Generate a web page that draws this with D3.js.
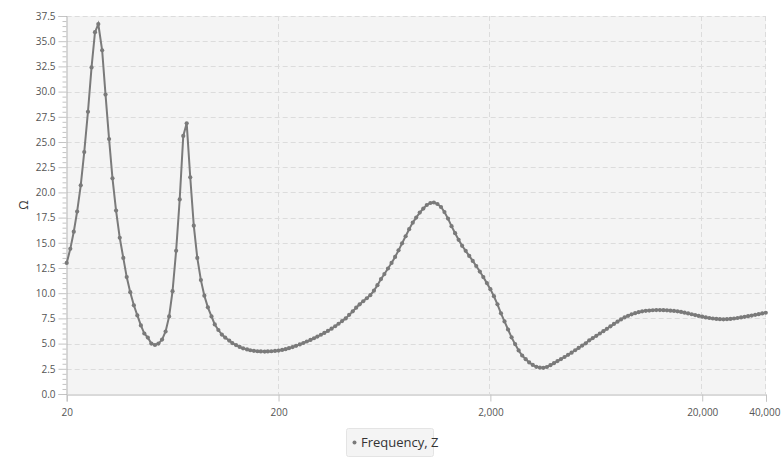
<!DOCTYPE html>
<html>
<head>
<meta charset="utf-8">
<script src="https://cdn.jsdelivr.net/npm/d3@7"></script>
<style>
  body { margin: 0; background: white; }
  text { font-family: "Open Sans", "Noto Sans", sans-serif; }
</style>
</head>
<body>
<div id="container"></div>
<script>
let w = 781;
let h = 462;
let margin = {top: 16, right: 15, bottom: 68, left: 66.7};

// DATA
let frequency = [
  20, 20.8, 21.6, 22.4, 23.3, 24.2, 25.2, 26.2, 27.2, 28.2, 29.4, 30.5, 31.7, 32.9, 34.2, 35.6, 37.0, 38.4, 39.9, 41.5,
  43.1, 44.8, 46.5, 48.3, 50.2, 52.2, 54.2, 56.4, 58.6, 60.9, 63.2, 65.7, 68.3, 71.0, 73.7, 76.6, 79.6, 82.7, 86.0, 89.3,
  92.8, 96.5, 100, 104, 108, 112, 117, 121, 126, 131, 136, 142, 147, 153, 159, 165, 172, 178, 185, 192.5,
  200, 208, 216, 224, 233, 242, 252, 262, 272, 283, 294, 305, 317, 329, 342, 356, 370, 384, 399, 415,
  431, 448, 465, 483, 502, 522, 542, 564, 586, 609, 632, 657, 683, 710, 737, 766, 796, 827, 860, 893,
  928, 965, 1002, 1042, 1082, 1125, 1169, 1214, 1262, 1311, 1363, 1416, 1471, 1529, 1589, 1651, 1715, 1783, 1852, 1925,
  2000, 2078, 2160, 2244, 2332, 2423, 2518, 2616, 2719, 2825, 2936, 3050, 3170, 3294, 3423, 3557, 3696, 3840, 3991, 4147,
  4309, 4477, 4653, 4835, 5024, 5220, 5425, 5637, 5857, 6086, 6325, 6572, 6829, 7096, 7374, 7662, 7962, 8274, 8597, 8934,
  9283, 9646, 10024, 10416, 10823, 11247, 11687, 12144, 12619, 13113, 13626, 14159, 14713, 15289, 15887, 16508, 17154, 17825, 18522, 19247,
  20000, 20782, 21596, 22440, 23318, 24230, 25179, 26163, 27188, 28250, 29356, 30504, 31698, 32938, 34226, 35566, 36957, 38402, 39906
];

let impedance = [
  13.0, 14.4, 16.1, 18.1, 20.7, 24.0, 28.0, 32.4, 35.9, 36.7, 34.1, 29.7, 25.3, 21.4, 18.2, 15.5, 13.5, 11.6, 10.1, 8.8,
  7.8, 6.8, 6.0, 5.6, 5.0, 4.86, 5.0, 5.4, 6.2, 7.7, 10.2, 14.2, 19.3, 25.6, 26.85, 21.5, 16.7, 13.5, 11.3, 9.75,
  8.6, 7.7, 6.9, 6.35, 5.9, 5.6, 5.3, 5.05, 4.85, 4.67, 4.53, 4.42, 4.34, 4.28, 4.24, 4.22, 4.21, 4.22, 4.24, 4.27,
  4.31, 4.37, 4.45, 4.55, 4.66, 4.78, 4.92, 5.06, 5.21, 5.36, 5.53, 5.70, 5.88, 6.06, 6.26, 6.48, 6.72, 6.97, 7.23, 7.50,
  7.85, 8.2, 8.56, 8.9, 9.2, 9.5, 9.8, 10.25, 10.8, 11.4, 11.9, 12.45, 13.0, 13.6, 14.25, 14.95, 15.65, 16.35, 17.0, 17.5,
  18.0, 18.4, 18.75, 18.95, 19.0, 18.85, 18.55, 18.05, 17.4, 16.65, 15.95, 15.3, 14.7, 14.2, 13.7, 13.2, 12.7, 12.15, 11.6, 11.0,
  10.4, 9.7, 8.9, 8.0, 7.2, 6.4, 5.62, 4.95, 4.32, 3.82, 3.45, 3.13, 2.88, 2.7, 2.62, 2.6, 2.68, 2.86, 3.06, 3.27,
  3.46, 3.67, 3.89, 4.1, 4.34, 4.57, 4.8, 5.03, 5.32, 5.55, 5.77, 6.0, 6.23, 6.47, 6.71, 6.95, 7.18, 7.4, 7.6, 7.76,
  7.9, 8.02, 8.12, 8.2, 8.25, 8.28, 8.31, 8.33, 8.33, 8.32, 8.3, 8.27, 8.24, 8.2, 8.14, 8.07, 7.99, 7.91, 7.83, 7.75,
  7.67, 7.6, 7.54, 7.49, 7.45, 7.42, 7.41, 7.42, 7.45, 7.49, 7.54, 7.6, 7.66, 7.72, 7.78, 7.85, 7.92, 7.99, 8.06
];

let xTicks = [20, 200, 2000, 20000, 40000];
let yMax = 37.5;
let yTickStep = 2.5;
let seriesName = "Frequency, Z";
let yLabel = "\u03A9";

let lineColor = "#7a7a7a";

let points = frequency.map(function(f, i){
  return {f: f, z: impedance[i]};
});

// SVG
let viz = d3.select("#container").append("svg")
    .attr("width", w)
    .attr("height", h)
    .style("display", "block")
;

let x0 = margin.left, x1 = w - margin.right;
let y0 = h - margin.bottom, y1 = margin.top;

let xScale = d3.scaleLog().domain([20, 40000]).range([x0, x1]);
let yScale = d3.scaleLinear().domain([0, yMax]).range([y0, y1]);

// plot background
viz.append("rect")
    .attr("x", x0).attr("y", y1)
    .attr("width", x1 - x0).attr("height", y0 - y1)
    .attr("fill", "#f4f4f4");

// gridlines
let yMajor = d3.range(0, yMax + 0.001, yTickStep);
let yMinor = d3.range(0, yMax + 0.001, 0.5);

viz.append("g").selectAll("line").data(yMajor.slice(1)).enter()
  .append("line")
    .attr("x1", x0).attr("x2", x1)
    .attr("y1", function(d){ return Math.round(yScale(d)) + 0.5; })
    .attr("y2", function(d){ return Math.round(yScale(d)) + 0.5; })
    .attr("stroke", "#dcdcdc")
    .attr("stroke-dasharray", "5,3");

viz.append("g").selectAll("line").data(xTicks.slice(1)).enter()
  .append("line")
    .attr("x1", function(d){ return Math.round(xScale(d)) - 0.5; })
    .attr("x2", function(d){ return Math.round(xScale(d)) - 0.5; })
    .attr("y1", y1).attr("y2", y0)
    .attr("stroke", "#dcdcdc")
    .attr("stroke-dasharray", "5,3");

// y axis
let yAxis = d3.axisLeft(yScale)
    .tickValues(yMajor)
    .tickFormat(d3.format(".1f"))
    .tickSize(8)
    .tickPadding(3);
let yG = viz.append("g")
    .attr("transform", "translate(" + (Math.round(x0) - 0.5) + ",0)")
    .call(yAxis);

let yMinorAxis = d3.axisLeft(yScale)
    .tickValues(yMinor.filter(function(d){ return Math.abs(d / yTickStep - Math.round(d / yTickStep)) > 0.01; }))
    .tickFormat("")
    .tickSize(4);
let yMG = viz.append("g")
    .attr("transform", "translate(" + (Math.round(x0) - 0.5) + ",0)")
    .call(yMinorAxis);
yMG.select(".domain").remove();

// x axis
let xAxis = d3.axisBottom(xScale)
    .tickValues(xTicks)
    .tickFormat(d3.format(","))
    .tickSize(7)
    .tickPadding(7);
let xG = viz.append("g")
    .attr("transform", "translate(0," + (Math.round(y0) + 0.5) + ")")
    .call(xAxis);

[yG, yMG, xG].forEach(function(g){
  g.selectAll(".domain").attr("stroke", "#b4b4b4");
  g.selectAll(".tick line").attr("stroke", "#c4c4c4");
  g.selectAll(".tick text")
    .attr("fill", "#555")
    .style("font-size", "10px")
    .style("font-family", "'Open Sans', sans-serif");
});

// keep the last x label inside the window
xG.selectAll(".tick text")
    .filter(function(d){ return d == 40000; })
    .attr("text-anchor", "end")
    .attr("dx", 14);

// y label
viz.append("text")
    .attr("transform", "translate(28," + ((y0 + y1) / 2) + ") rotate(-90)")
    .attr("text-anchor", "middle")
    .attr("fill", "#333")
    .style("font-size", "12px")
    .text(yLabel);

// line + markers
let lineMaker = d3.line()
    .x(function(d){ return xScale(d.f); })
    .y(function(d){ return yScale(d.z); });

viz.append("path")
    .datum(points)
    .attr("d", lineMaker)
    .attr("fill", "none")
    .attr("stroke", lineColor)
    .attr("stroke-width", 2);

viz.append("g").selectAll("circle").data(points).enter()
  .append("circle")
    .attr("cx", function(d){ return xScale(d.f); })
    .attr("cy", function(d){ return yScale(d.z); })
    .attr("r", 2.1)
    .attr("fill", lineColor);

// legend
let legend = viz.append("g").attr("transform", "translate(346,428)");
legend.append("rect")
    .attr("x", 0.5).attr("y", 0.5)
    .attr("width", 87).attr("height", 28)
    .attr("rx", 2)
    .attr("fill", "#f4f4f4")
    .attr("stroke", "#e4e4e4");
legend.append("circle")
    .attr("cx", 8.5).attr("cy", 14.5)
    .attr("r", 2)
    .attr("fill", lineColor);
legend.append("text")
    .attr("x", 15).attr("y", 19)
    .attr("fill", "#333")
    .style("font-size", "13px")
    .text(seriesName);
</script>
</body>
</html>
